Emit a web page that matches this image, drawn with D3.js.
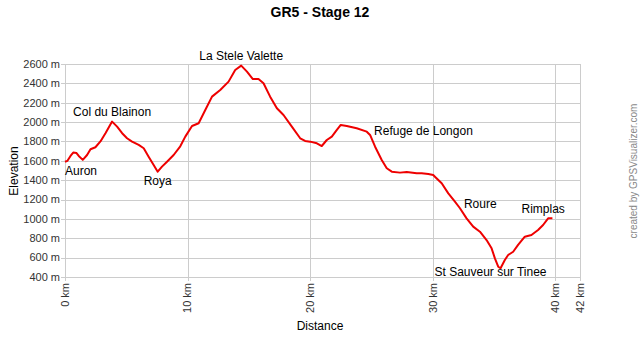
<!DOCTYPE html>
<html>
<head>
<meta charset="utf-8">
<script src="https://cdn.jsdelivr.net/npm/d3@7"></script>
<style>
  body { margin: 0; background: #fff; }
  text { font-family: "Liberation Sans", Arial, sans-serif; }
</style>
</head>
<body>
<div id="app"></div>
<script>
const distKm = [0, 0.2, 0.45, 0.67, 0.94, 1.12, 1.45, 1.8, 2.08, 2.48, 2.89, 3.3, 3.84, 4.25, 4.66,
  5.06, 5.47, 6.01, 6.42, 6.82, 7.23, 7.56, 7.91, 8.32, 8.86, 9.4, 9.81, 10.36, 10.9, 11.44,
  11.99, 12.66, 13.34, 13.88, 14.37, 14.84, 15.32, 15.78, 16.19, 16.73, 17.28, 17.82, 18.5,
  19.18, 19.58, 20.0, 20.54, 20.94, 21.35, 21.76, 22.17, 22.49, 22.98, 23.79, 24.61, 24.88,
  25.29, 25.83, 26.24, 26.65, 27.32, 27.87, 28.68, 29.09, 29.63, 30.03, 30.17, 30.72, 31.26,
  31.8, 32.21, 32.75, 33.29, 33.84, 34.38, 34.79, 35.06, 35.33, 35.52, 35.87, 36.14, 36.55,
  36.95, 37.5, 38.04, 38.58, 38.99, 39.4, 39.75]
const elevM = [1590, 1600, 1650, 1685, 1680, 1650, 1610, 1660, 1720, 1740, 1800, 1885, 2005, 1953, 1885,
  1833, 1798, 1764, 1730, 1643, 1557, 1488, 1540, 1591, 1660, 1750, 1850, 1960, 1988, 2125,
  2263, 2332, 2418, 2538, 2583, 2521, 2445, 2445, 2401, 2263, 2143, 2073, 1953,
  1833, 1805, 1798, 1781, 1753, 1815, 1850, 1919, 1970, 1960, 1936, 1901, 1867,
  1746, 1609, 1523, 1488, 1478, 1485, 1471, 1471, 1464, 1454, 1436, 1368, 1264,
  1178, 1110, 1006, 920, 868, 782, 696, 593, 506, 490, 576, 627, 661,
  731, 816, 834, 886, 937, 1006, 1006]

const wptNames = ['Auron', 'Col du Blainon', 'Roya', 'La Stele Valette', 'Refuge de Longon', 'Roure', 'St Sauveur sur Tinee', 'Rimplas']
const wptDist = [0, 3.84, 7.56, 14.37, 24.88, 32.21, 34.7, 39.0]
const wptElev = [1590, 2005, 1488, 2583, 1867, 1110, 520, 1000]
const wptPos = ['belowStart', 'above', 'below', 'above', 'right', 'right', 'below', 'above']

const xTicks = [0, 10, 20, 30, 40, 42]
const yTicks = [400, 600, 800, 1000, 1200, 1400, 1600, 1800, 2000, 2200, 2400, 2600]

const W = 640, H = 341
const m = { left: 65, right: 580, top: 64, bottom: 277 }

const svg = d3.select('#app').append('svg')
  .attr('width', W)
  .attr('height', H)

const x = d3.scaleLinear().domain([0, 42]).range([m.left, m.right])
const y = d3.scaleLinear().domain([400, 2600]).range([m.bottom, m.top])

// grid
svg.append('g').selectAll('line.h')
  .data(yTicks)
  .enter().append('line')
  .attr('x1', m.left - 4).attr('x2', m.right)
  .attr('y1', d => Math.round(y(d)) + 0.5).attr('y2', d => Math.round(y(d)) + 0.5)
  .attr('stroke', '#cccccc')

svg.append('g').selectAll('line.v')
  .data(xTicks)
  .enter().append('line')
  .attr('x1', d => Math.round(x(d)) + 0.5).attr('x2', d => Math.round(x(d)) + 0.5)
  .attr('y1', m.top).attr('y2', m.bottom + 4)
  .attr('stroke', '#cccccc')

// y labels
svg.append('g').selectAll('text')
  .data(yTicks)
  .enter().append('text')
  .attr('x', m.left - 5)
  .attr('y', d => y(d))
  .attr('dy', '0.35em')
  .attr('text-anchor', 'end')
  .attr('font-size', 11)
  .attr('fill', '#333')
  .text(d => d + ' m')

// x labels
svg.append('g').selectAll('text')
  .data(xTicks)
  .enter().append('text')
  .attr('transform', d => `translate(${x(d)}, ${m.bottom + 6}) rotate(-90)`)
  .attr('dy', '0.35em')
  .attr('text-anchor', 'end')
  .attr('font-size', 11)
  .attr('fill', '#333')
  .text(d => d + ' km')

// profile
const line = d3.line()
  .x(d => x(d[0]))
  .y(d => y(d[1]))

svg.append('path')
  .datum(d3.zip(distKm, elevM))
  .attr('d', line)
  .attr('fill', 'none')
  .attr('stroke', '#ee0000')
  .attr('stroke-width', 2)
  .attr('stroke-linejoin', 'round')

// waypoints
svg.append('g').selectAll('text')
  .data(d3.range(wptNames.length))
  .enter().append('text')
  .attr('x', i => wptPos[i] === 'right' ? x(wptDist[i]) + 4 : x(wptDist[i]))
  .attr('y', i => {
    const py = y(wptElev[i])
    if (wptPos[i] === 'above') return py - 10
    if (wptPos[i] === 'right') return py - 4
    return Math.min(py + 9, m.bottom - 5)
  })
  .attr('dy', '0.35em')
  .attr('text-anchor', i => (wptPos[i] === 'right' || wptPos[i] === 'belowStart') ? 'start' : 'middle')
  .attr('font-size', 12)
  .attr('fill', '#000')
  .text(i => wptNames[i])

// titles
svg.append('text')
  .attr('x', 320).attr('y', 17)
  .attr('text-anchor', 'middle')
  .attr('font-size', 14)
  .attr('font-weight', 'bold')
  .text('GR5 - Stage 12')

svg.append('text')
  .attr('x', 320).attr('y', 330)
  .attr('text-anchor', 'middle')
  .attr('font-size', 12)
  .text('Distance')

svg.append('text')
  .attr('transform', 'translate(18, 171) rotate(-90)')
  .attr('text-anchor', 'middle')
  .attr('font-size', 12)
  .text('Elevation')

svg.append('text')
  .attr('transform', 'translate(637, 171) rotate(-90)')
  .attr('text-anchor', 'middle')
  .attr('font-size', 10)
  .attr('fill', '#888')
  .text('created by GPSVisualizer.com')
</script>
</body>
</html>
